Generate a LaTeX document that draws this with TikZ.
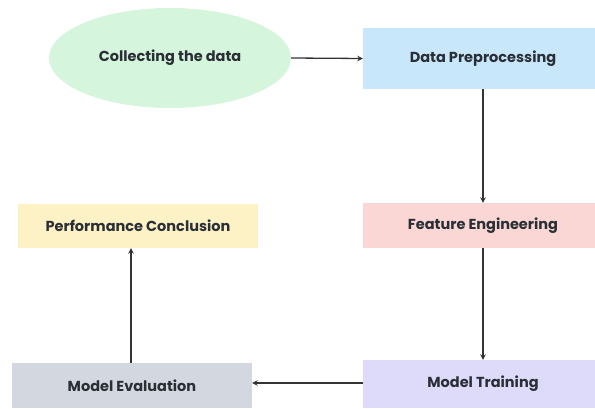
\documentclass[tikz,border=0pt]{standalone}
\usepackage{fontspec}
\setmainfont{Poppins}
\usetikzlibrary{shapes.geometric,arrows.meta}
\definecolor{cgreen}{HTML}{D6F5DD}
\definecolor{cblue}{HTML}{C8E7FB}
\definecolor{cpink}{HTML}{FAD6D4}
\definecolor{cyellow}{HTML}{FDF2C6}
\definecolor{cgray}{HTML}{D3D7DF}
\definecolor{cpurple}{HTML}{DDDAFA}
\definecolor{ctext}{HTML}{2A2F36}
\definecolor{cline}{HTML}{333333}
\tikzset{
  lbl/.style={font=\bfseries\fontsize{14.5}{17}\selectfont, text=ctext},
  boxnode/.style={lbl, rectangle, minimum width=240pt, minimum height=46pt, inner sep=0pt},
  link/.style={draw=cline, line width=1.3pt, -{Stealth[length=5.5pt,width=5.5pt]}}
}
\begin{document}
\begin{tikzpicture}[x=1pt,y=-1pt]
\useasboundingbox (0,0) rectangle (595,409);
\node[lbl, ellipse, fill=cgreen, minimum width=242pt, minimum height=100pt, inner sep=0pt] (collect) at (170,58) {Collecting the data};
\node[boxnode, fill=cblue, minimum height=61pt] (prep) at (483,58.5) {Data Preprocessing};
\node[boxnode, fill=cpink, minimum height=45pt] (feat) at (483,225.5) {Feature Engineering};
\node[boxnode, fill=cpurple, minimum height=48pt] (train) at (483,384) {Model Training};
\node[boxnode, fill=cgray, minimum height=45pt] (eval) at (132,385.5) {Model Evaluation};
\node[boxnode, fill=cyellow, minimum height=44pt] (concl) at (138,226) {Performance Conclusion};
\draw[link] (collect.east) -- (prep.west);
\draw[link] (prep.south) -- (feat.north);
\draw[link] (feat.south) -- (train.north);
\draw[link] (train.west |- 0,383) -- (eval.east |- 0,383);
\draw[link] (eval.north -| 131,0) -- (concl.south -| 131,0);
\end{tikzpicture}
\end{document}
